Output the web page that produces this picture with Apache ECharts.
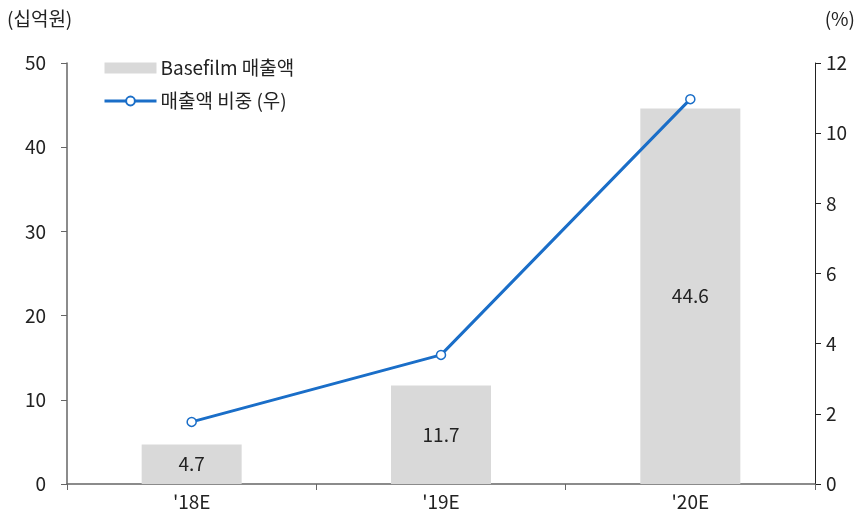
<!DOCTYPE html>
<html><head><meta charset="utf-8">
<script src="https://cdn.jsdelivr.net/npm/echarts@6/dist/echarts.min.js"></script>
<style>html,body{margin:0;padding:0;background:#fff}#c{width:860px;height:519px}</style>
</head><body><div id="c"></div>
<script>
const categories = ["'18E", "'19E", "'20E"];
const salesValues = [4.7, 11.7, 44.6];
const shareValues = [1.77, 3.68, 10.97];
const leftTicks = [0, 10, 20, 30, 40, 50];
const rightTicks = [0, 2, 4, 6, 8, 10, 12];
const seriesNames = ['Basefilm 매출액', '매출액 비중 (우)'];

const FONT = '"Noto Sans CJK KR", "Noto Sans", sans-serif';
const FS = 19;
const chart = echarts.init(document.getElementById('c'), null, {renderer: 'canvas'});
chart.setOption({
  animation: false,
  textStyle: {fontFamily: FONT},
  grid: {left: 67, right: 45, top: 63, bottom: 35, containLabel: false},
  legend: {
    orient: 'vertical', left: 103, top: 58, itemGap: 13, padding: 0,
    itemWidth: 52, itemHeight: 11,
    textStyle: {fontFamily: FONT, fontSize: FS, lineHeight: 20, color: '#222', padding: [0, 0, 0, -1]},
    data: [
      {name: seriesNames[0], icon: 'rect'},
      {name: seriesNames[1], lineStyle: {width: 3, color: '#1a6ec8'}}
    ]
  },
  graphic: [
    {type: 'text', left: 7, top: 9, style: {text: '(십억원)', font: FS + 'px ' + FONT, fill: '#222'}},
    {type: 'text', right: 5, top: 9, style: {text: '(%)', font: FS + 'px ' + FONT, fill: '#222'}}
  ],
  xAxis: {
    type: 'category', data: categories,
    axisLine: {lineStyle: {color: '#666', width: 1.5}},
    axisTick: {show: true, alignWithLabel: false, length: 6, lineStyle: {color: '#666'}},
    axisLabel: {fontSize: FS, color: '#222', margin: 8, fontFamily: FONT}
  },
  yAxis: [
    {
      type: 'value', min: 0, max: 50, interval: 10,
      splitLine: {show: false},
      axisLine: {show: true, lineStyle: {color: '#666', width: 1.5}},
      axisTick: {show: true, length: 6, lineStyle: {color: '#666'}},
      axisLabel: {fontSize: FS, color: '#222', margin: 21, fontFamily: FONT}
    },
    {
      type: 'value', min: 0, max: 12, interval: 2,
      splitLine: {show: false},
      axisLine: {show: true, lineStyle: {color: '#222', width: 1}},
      axisTick: {show: true, length: 6, lineStyle: {color: '#222'}},
      axisLabel: {fontSize: FS, color: '#222', margin: 11, fontFamily: FONT}
    }
  ],
  series: [
    {
      name: seriesNames[0], type: 'bar', data: salesValues, yAxisIndex: 0,
      barWidth: 100,
      itemStyle: {color: '#d9d9d9'},
      label: {show: true, position: 'inside', fontSize: FS, color: '#222', fontFamily: FONT}
    },
    {
      name: seriesNames[1], type: 'line', data: shareValues, yAxisIndex: 1,
      symbol: 'circle', symbolSize: 9,
      lineStyle: {color: '#1a6ec8', width: 3},
      itemStyle: {color: '#fff', borderColor: '#1a6ec8', borderWidth: 1.5},
      z: 5
    }
  ]
});
</script></body></html>
